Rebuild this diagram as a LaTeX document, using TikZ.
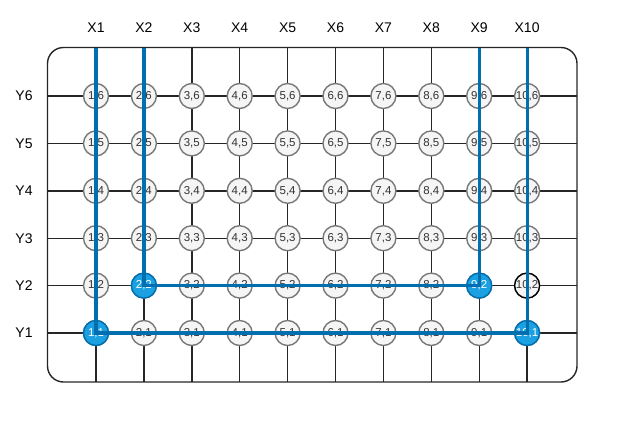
\documentclass[tikz,border=0pt]{standalone}
\usepackage{fontspec}
\setmainfont{Liberation Sans}
\definecolor{pathblue}{RGB}{0,110,175}
\definecolor{nodeblue}{RGB}{27,161,226}
\definecolor{cellfill}{RGB}{245,245,245}
\definecolor{cellline}{RGB}{120,120,120}
\tikzset{
  gridline/.style={draw=black!85,line width=1.4pt},
  cell/.style={circle,draw=cellline,fill=cellfill,line width=1.4pt,minimum size=25pt,inner sep=0pt,font=\fontsize{11.5}{12}\selectfont,text=black!80},
  active/.style={cell,draw=pathblue,fill=nodeblue,text=white},
  marked/.style={cell,draw=black},
  pathline/.style={draw=pathblue,line width=3.2pt},
  axislabel/.style={font=\fontsize{14}{15}\selectfont}
}
\begin{document}
\begin{tikzpicture}[x=1pt,y=-1pt]
\useasboundingbox (0,0) rectangle (624,431);
% frame
\draw[gridline,rounded corners=16pt](47.5,47.5) rectangle (577,382);
% columns and rows
\foreach \i in {1,...,10}{
  \coordinate (t\i) at ({96+(\i-1)*47.9},47.5);
  \coordinate (b\i) at ({96+(\i-1)*47.9},382);
  \draw[gridline](t\i)--(b\i);
  \node[axislabel] (x\i) at ({96+(\i-1)*47.9},28) {X\i};
}
\foreach \j in {1,...,6}{
  \coordinate (l\j) at (47.5,{333-(\j-1)*47.4});
  \coordinate (r\j) at (577,{333-(\j-1)*47.4});
  \draw[gridline](l\j)--(r\j);
  \node[axislabel] (y\j) at (24,{333-(\j-1)*47.4}) {Y\j};
}
% cells
\foreach \i in {1,...,10}{
  \foreach \j in {1,...,6}{
    \node[cell] (c\i-\j) at ({96+(\i-1)*47.9},{333-(\j-1)*47.4}) {\i,\j};
  }
}
\node[active] at (c1-1) {1,1};
\node[active] at (c2-2) {2,2};
\node[active] at (c9-2) {9,2};
\node[active] at (c10-1) {10,1};
\node[marked] at (c10-2) {10,2};
% paths
\draw[pathline](t1)--(c1-1.center)--(c10-1.center)--(t10);
\draw[pathline](t2)--(c2-2.center)--(c9-2.center)--(t9);
\end{tikzpicture}
\end{document}
